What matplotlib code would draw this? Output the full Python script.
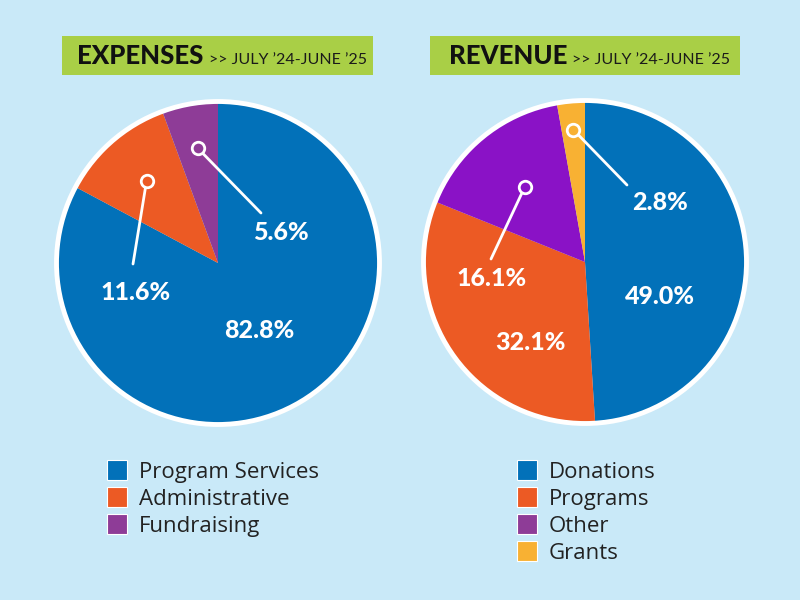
import numpy as np
from matplotlib import pyplot as plt
from matplotlib.patches import Rectangle, Circle

# 数据
exp_labels = ['Program Services', 'Administrative', 'Fundraising']
exp_values = [82.8, 11.6, 5.6]
exp_colors = ['#0271b9', '#ec5a24', '#8e3c97']

rev_labels = ['Donations', 'Programs', 'Other', 'Grants']
rev_values = [49.0, 32.1, 16.1, 2.8]
rev_colors = ['#0271b9', '#ec5a24', '#8a12c6', '#f8b133']
rev_legend_colors = ['#0271b9', '#ec5a24', '#8e3c97', '#f8b133']

period = ">> JULY \u201924-JUNE \u201925"

bg = '#c9e9f8'
green = '#a9cf46'
H = 600


def py(y):
    # 像素坐标(从上往下) -> 数据坐标
    return H - y


fig = plt.figure(figsize=(8, 6), dpi=100, facecolor=bg)
ax = fig.add_axes([0, 0, 1, 1])
ax.set_facecolor(bg)


def draw_panel(title, title_box, title_x, sub_x, values, colors, center, radius,
               label_pos, callouts, leg_labels, leg_colors, leg_x):
    # 标题框
    x0, y0, x1, y1 = title_box
    ax.add_patch(Rectangle((x0, py(y1)), x1 - x0, y1 - y0, color=green, lw=0))
    yb = py(64)
    ax.text(title_x, yb, title, fontsize=18.5, fontweight='black', family=['Lato', 'DejaVu Sans'],
            color='#111111', va='baseline', ha='left')
    ax.text(sub_x, yb, period, fontsize=11.5, fontweight='normal', family=['Lato', 'DejaVu Sans'],
            color='#1a1a1a', va='baseline', ha='left')

    # 饼图
    cx, cy = center[0], py(center[1])
    wedges, _ = ax.pie(values, colors=colors, startangle=90, counterclock=False,
                       center=(cx, cy), radius=radius, wedgeprops=dict(linewidth=0))
    ax.add_patch(Circle((cx, cy), radius + 1.5, fill=False, ec='white', lw=3.5))

    # 标签
    for i, v in enumerate(values):
        lx, ly = label_pos[i]
        ax.text(cx + lx, cy + ly, '%.1f%%' % v, fontsize=18, fontweight='black',
                family=['Lato', 'DejaVu Sans'], color='white', ha='center', va='center')

    # 引线
    for i, frac, (ex, ey) in callouts:
        w = wedges[i]
        ang = np.deg2rad((w.theta1 + w.theta2) / 2)
        mx, my = cx + radius * frac * np.cos(ang), cy + radius * frac * np.sin(ang)
        ax.plot([mx, cx + ex], [my, cy + ey], color='white', lw=2, solid_capstyle='round')
        ax.plot([mx], [my], marker='o', ms=9, mfc=colors[i], mec='white', mew=2)

    # 图例
    for j, (lab, col) in enumerate(zip(leg_labels, leg_colors)):
        yc = py(470 + 27 * j)
        ax.add_patch(Rectangle((leg_x, yc - 10), 20, 20, fc=col, ec='white', lw=0.8))
        ax.text(leg_x + 32, yc, lab, fontsize=16, family=['Open Sans', 'DejaVu Sans'],
                color='#222222', va='center_baseline', ha='left')


draw_panel('EXPENSES', (62, 36, 373, 75), 77, 209, exp_values, exp_colors,
           (218, 263), 160,
           [(41, -67), (-82, -29), (63, 31)],
           [(1, 0.68, (-85, -1)), (2, 0.73, (43, 50))],
           exp_labels, exp_colors, 107)

draw_panel('REVENUE', (430, 36, 740, 75), 449, 572, rev_values, rev_colors,
           (585, 262), 160,
           [(75, -35), (-55, -80), (-93, -17), (75, 59)],
           [(2, 0.6, (-94, 3)), (3, 0.83, (42, 77))],
           rev_labels, rev_legend_colors, 517)

ax.set_xlim(0, 800)
ax.set_ylim(0, 600)
ax.set_aspect('auto')
ax.axis('off')

plt.savefig('out.png', dpi=100, facecolor=bg)
